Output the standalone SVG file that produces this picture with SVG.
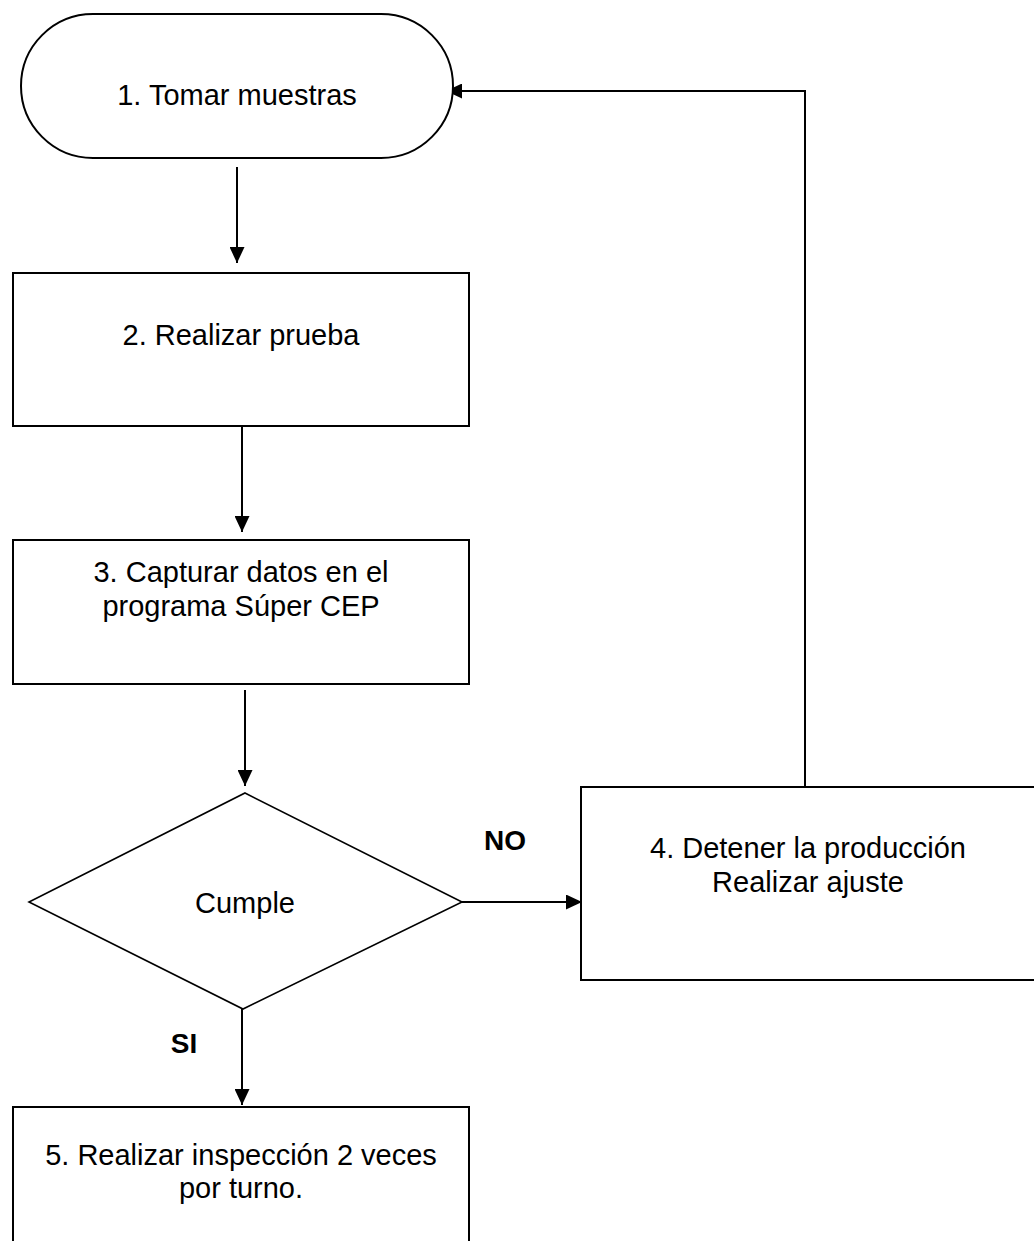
<svg xmlns="http://www.w3.org/2000/svg" width="1034" height="1241" viewBox="0 0 1034 1241">
<style>
.shape{fill:#fff;stroke:#000;stroke-width:2}
.dia{fill:#fff;stroke:#000;stroke-width:1.6}
.t{font-family:"Liberation Sans",Arial,sans-serif;font-size:29px;fill:#000;text-anchor:middle}
.b{font-family:"Liberation Sans",Arial,sans-serif;font-size:28px;font-weight:bold;fill:#000;text-anchor:middle}
.c{fill:none;stroke:#000;stroke-width:2}
</style>
<defs>
<marker id="ah" markerUnits="userSpaceOnUse" markerWidth="16" markerHeight="15" refX="16" refY="7.5" orient="auto">
<path d="M0,0 L16,7.5 L0,15 z" fill="#000"/>
</marker>
</defs>
<rect width="1034" height="1241" fill="#fff"/>
<g id="connectors">
<line class="c" x1="237" y1="167" x2="237" y2="263" marker-end="url(#ah)"/>
<line class="c" x1="242" y1="426" x2="242" y2="532" marker-end="url(#ah)"/>
<line class="c" x1="245" y1="690" x2="245" y2="786" marker-end="url(#ah)"/>
<line class="c" x1="462" y1="902" x2="582" y2="902" marker-end="url(#ah)"/>
<polyline class="c" points="805,787 805,91 446,91" marker-end="url(#ah)"/>
<line class="c" x1="242" y1="1009" x2="242" y2="1105" marker-end="url(#ah)"/>
<text class="b" x="505" y="850">NO</text>
<text class="b" x="184" y="1053">SI</text>
</g>
<g id="n1">
<rect class="shape" x="21" y="14" width="432" height="144" rx="72" ry="72"/>
<text class="t" x="237" y="105">1. Tomar muestras</text>
</g>
<g id="n2">
<rect class="shape" x="13" y="273" width="456" height="153"/>
<text class="t" x="241" y="345">2. Realizar prueba</text>
</g>
<g id="n3">
<rect class="shape" x="13" y="540" width="456" height="144"/>
<text class="t" x="241" y="582">3. Capturar datos en el</text>
<text class="t" x="241" y="616">programa Súper CEP</text>
</g>
<g id="n_dec">
<polygon class="dia" points="245,793 462,902 243,1009 29,902"/>
<text class="t" x="245" y="913">Cumple</text>
</g>
<g id="n4">
<rect class="shape" x="581" y="787" width="460" height="193"/>
<text class="t" x="808" y="858">4. Detener la producción</text>
<text class="t" x="808" y="892">Realizar ajuste</text>
</g>
<g id="n5">
<rect class="shape" x="13" y="1107" width="456" height="150"/>
<text class="t" x="241" y="1165">5. Realizar inspección 2 veces</text>
<text class="t" x="241" y="1198">por turno.</text>
</g>
</svg>
